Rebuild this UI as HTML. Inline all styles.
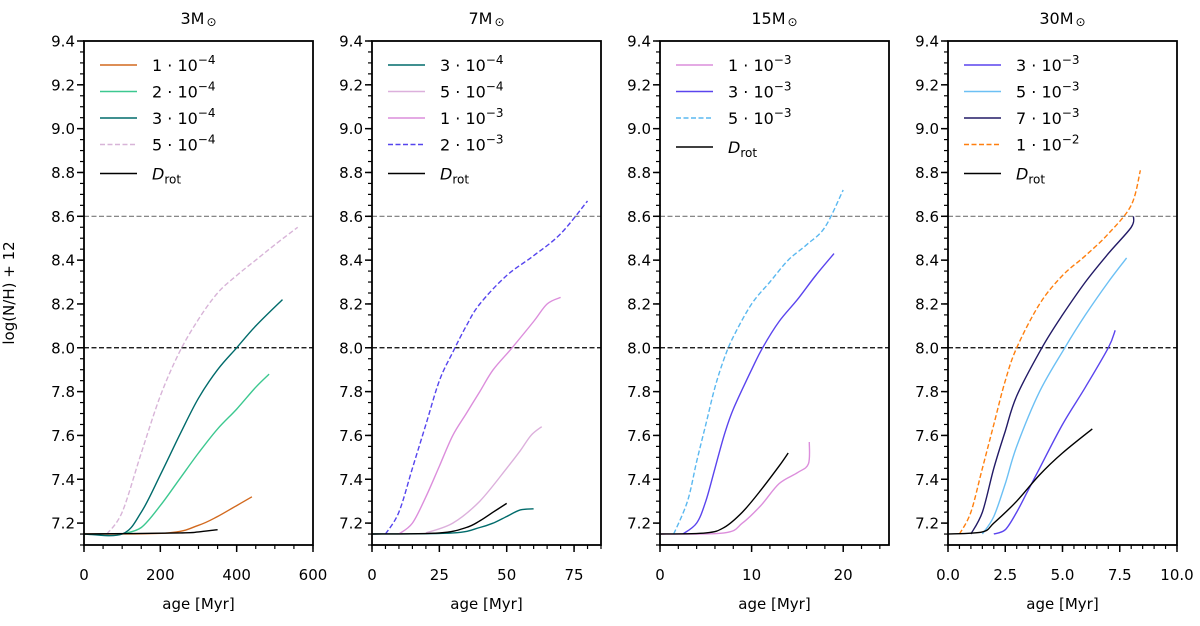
<!DOCTYPE html>
<html><head><meta charset="utf-8"><style>
body{margin:0;background:#fff}
svg text{font-family:"DejaVu Sans","Liberation Sans",sans-serif;fill:#000}
</style></head><body>
<svg id="c" width="1200" height="621" xmlns="http://www.w3.org/2000/svg"></svg>
<script>
const panelTitles=["3","7","15","30"];
const xMaxes=[600,85,25,10];
const xTickLabels=[["0","200","400","600"],["0","25","50","75"],["0","10","20"],["0.0","2.5","5.0","7.5","10.0"]];
const xTickVals=[[0,200,400,600],[0,25,50,75],[0,10,20],[0,2.5,5,7.5,10]];
const xMinor=[50,5,2,0.5];
const yTicks=[7.2,7.4,7.6,7.8,8.0,8.2,8.4,8.6,8.8,9.0,9.2,9.4];
const hLines=[8.0,8.6];
const p1_orange_x=[0,220,300,350,400,440];const p1_orange_y=[7.15,7.155,7.19,7.23,7.28,7.32];
const p1_green_x=[100,150,200,250,300,350,400,450,485];const p1_green_y=[7.15,7.18,7.28,7.4,7.52,7.63,7.72,7.82,7.88];
const p1_teal_x=[0,100,150,200,250,300,350,400,450,520];const p1_teal_y=[7.15,7.15,7.25,7.42,7.6,7.77,7.9,8.0,8.1,8.22];
const p1_lilac_x=[60,100,150,200,250,300,350,400,450,500,560];const p1_lilac_y=[7.15,7.25,7.52,7.78,7.98,8.13,8.25,8.33,8.4,8.47,8.55];
const p1_black_x=[0,250,300,350];const p1_black_y=[7.15,7.155,7.16,7.17];
const p2_teal_x=[0,30,40,45,50,55,60];const p2_teal_y=[7.15,7.155,7.18,7.2,7.23,7.26,7.265];
const p2_lpink_x=[20,30,40,50,55,59,63];const p2_lpink_y=[7.155,7.2,7.3,7.45,7.53,7.6,7.64];
const p2_orchid_x=[10,15,20,25,30,35,40,45,52,60,65,70];const p2_orchid_y=[7.15,7.2,7.32,7.46,7.6,7.7,7.8,7.9,8.0,8.12,8.2,8.23];
const p2_blue_x=[5,10,15,20,25,30,35,40,50,60,70,80];const p2_blue_y=[7.15,7.25,7.45,7.65,7.85,7.98,8.1,8.2,8.33,8.42,8.52,8.67];
const p2_black_x=[0,25,35,40,45,50];const p2_black_y=[7.15,7.155,7.18,7.21,7.25,7.29];
const p3_pink_x=[0,7,9,11,13,15,16.2,16.3];const p3_pink_y=[7.15,7.155,7.2,7.28,7.38,7.43,7.47,7.57];
const p3_blue_x=[2.5,4,5,6,7,8,10,11.2,13,15,17,19];const p3_blue_y=[7.15,7.2,7.3,7.45,7.6,7.72,7.9,8.0,8.12,8.22,8.33,8.43];
const p3_cyan_x=[1.5,3,4,5,6,7,8,10,12,14,16,18,20];const p3_cyan_y=[7.15,7.3,7.48,7.65,7.82,7.95,8.05,8.2,8.3,8.4,8.47,8.55,8.72];
const p3_black_x=[0,5,7,9,11,13,14];const p3_black_y=[7.15,7.155,7.18,7.25,7.35,7.46,7.52];
const p4_blue_x=[2,2.5,3,3.5,4,5,6,7,7.3];const p4_blue_y=[7.15,7.17,7.25,7.35,7.45,7.65,7.82,8.0,8.08];
const p4_lblue_x=[1.5,2,2.5,3,4,5.1,6,7,7.8];const p4_lblue_y=[7.15,7.23,7.38,7.55,7.8,8.0,8.15,8.3,8.41];
const p4_navy_x=[1,1.5,2,2.5,3,4.1,5,6,7,8,8.1];const p4_navy_y=[7.15,7.25,7.45,7.62,7.78,8.0,8.15,8.3,8.43,8.55,8.6];
const p4_orange_x=[0.5,1,1.5,2,2.5,3,4,5,6,7,8,8.4];const p4_orange_y=[7.15,7.25,7.45,7.65,7.85,8.0,8.2,8.33,8.42,8.52,8.65,8.81];
const p4_black_x=[0,1.5,2,3,4,5,6.3];const p4_black_y=[7.15,7.16,7.2,7.3,7.42,7.52,7.63];
const series=[
[0,"1 · 10","−4","#d2691e",0,p1_orange_x,p1_orange_y],
[0,"2 · 10","−4","#3cc890",0,p1_green_x,p1_green_y],
[0,"3 · 10","−4","#006b6b",0,p1_teal_x,p1_teal_y],
[0,"5 · 10","−4","#d8b4d8",1,p1_lilac_x,p1_lilac_y],
[0,"D","rot","#000",0,p1_black_x,p1_black_y],
[1,"3 · 10","−4","#006b6b",0,p2_teal_x,p2_teal_y],
[1,"5 · 10","−4","#dcb0dc",0,p2_lpink_x,p2_lpink_y],
[1,"1 · 10","−3","#dc8edc",0,p2_orchid_x,p2_orchid_y],
[1,"2 · 10","−3","#5544ee",1,p2_blue_x,p2_blue_y],
[1,"D","rot","#000",0,p2_black_x,p2_black_y],
[2,"1 · 10","−3","#dc8edc",0,p3_pink_x,p3_pink_y],
[2,"3 · 10","−3","#5a44ee",0,p3_blue_x,p3_blue_y],
[2,"5 · 10","−3","#5ab8f0",1,p3_cyan_x,p3_cyan_y],
[2,"D","rot","#000",0,p3_black_x,p3_black_y],
[3,"3 · 10","−3","#5a44ee",0,p4_blue_x,p4_blue_y],
[3,"5 · 10","−3","#6cc0f4",0,p4_lblue_x,p4_lblue_y],
[3,"7 · 10","−3","#221a66",0,p4_navy_x,p4_navy_y],
[3,"1 · 10","−2","#ff7f0e",1,p4_orange_x,p4_orange_y],
[3,"D","rot","#000",0,p4_black_x,p4_black_y]];
const NS="http://www.w3.org/2000/svg",svg=document.getElementById('c');
function mk(t,a,p){const e=document.createElementNS(NS,t);for(const k in a)e.setAttribute(k,a[k]);(p||svg).appendChild(e);return e;}
function smooth(pts){let d='M'+pts[0][0].toFixed(1)+','+pts[0][1].toFixed(1);
 for(let i=0;i<pts.length-1;i++){const p0=pts[Math.max(0,i-1)],p1=pts[i],p2=pts[i+1],p3=pts[Math.min(pts.length-1,i+2)];
  const c1=[p1[0]+(p2[0]-p0[0])/6,p1[1]+(p2[1]-p0[1])/6],c2=[p2[0]-(p3[0]-p1[0])/6,p2[1]-(p3[1]-p1[1])/6];
  d+='C'+c1.map(v=>v.toFixed(1))+' '+c2.map(v=>v.toFixed(1))+' '+p2.map(v=>v.toFixed(1));}
 return d;}
const L0=84,PW=229,GAP=288,T=41,B=545,Y0=7.1,Y1=9.4;
const yS=v=>B-(v-Y0)/(Y1-Y0)*(B-T);
for(let p=0;p<4;p++){
 const L=L0+p*GAP,R=L+PW,xS=v=>L+v/xMaxes[p]*PW;
 const g=mk('g',{});
 
 
 const t=mk('text',{x:L+PW/2,y:24,'font-size':16,'text-anchor':'middle'},g);t.textContent=panelTitles[p]+'M';
 const ts=mk('tspan',{'font-size':12,dx:2,dy:2},t);ts.textContent='⊙';
 
 hLines.forEach((h,i)=>{const l=mk('line',{x1:L,x2:R,y1:yS(h),y2:yS(h),stroke:i?'#777':'#000','stroke-width':1.2,'stroke-dasharray':'5,2.5'},g);
  });
 series.filter(s=>s[0]===p).forEach(s=>{
  const d=smooth(s[5].map((x,i)=>[xS(x),yS(s[6][i])]));
  const pa=mk('path',{d,fill:'none',stroke:s[3],'stroke-width':1.4},g);if(s[4])pa.setAttribute('stroke-dasharray','5,2.5');
  });
 series.filter(s=>s[0]===p).forEach((s,i)=>{
  const y=65+i*26.5+(s[1]==='D'?2.5:0);
  const l=mk('line',{x1:L+16,x2:L+53,y1:y,y2:y,stroke:s[3],'stroke-width':1.4},g);if(s[4])l.setAttribute('stroke-dasharray','5,2.5');
  
  const tx=mk('text',{x:L+68,y:y+6,'font-size':16},g);
  
  if(s[1]==='D'){const a=mk('tspan',{'font-style':'italic'},tx);a.textContent='D';const b=mk('tspan',{'font-size':12,dy:4},tx);b.textContent='rot';}
  else{tx.textContent=s[1];const b=mk('tspan',{'font-size':12,dy:-7},tx);b.textContent=s[2];}
 });
 const fr=mk('rect',{x:L,y:T,width:PW,height:B-T,fill:'none',stroke:'#000','stroke-width':1.8},g);
 
 for(let v=7.1;v<=9.401;v+=0.05){const yy=yS(v);mk('line',{x1:L-4,x2:L,y1:yy,y2:yy,stroke:'#000','stroke-width':1.2},g);}
 yTicks.forEach(v=>{mk('line',{x1:L-7,x2:L,y1:yS(v),y2:yS(v),stroke:'#000','stroke-width':1.5},g);
  const tt=mk('text',{x:L-9,y:yS(v)+5.5,'font-size':15,'text-anchor':'end'},g);tt.textContent=v.toFixed(1);
  });
 for(let v=0;v<=xMaxes[p]+1e-6;v+=xMinor[p]){mk('line',{x1:xS(v),x2:xS(v),y1:B,y2:B+4,stroke:'#000','stroke-width':1.2},g);}
 xTickVals[p].forEach((v,i)=>{mk('line',{x1:xS(v),x2:xS(v),y1:B,y2:B+7,stroke:'#000','stroke-width':1.5},g);
  const tt=mk('text',{x:xS(v),y:580,'font-size':15,'text-anchor':'middle'},g);tt.textContent=xTickLabels[p][i];
  });
 const xl=mk('text',{x:L+PW/2,y:609,'font-size':15,'text-anchor':'middle'},g);xl.textContent='age [Myr]';
 
}
const yl=mk('text',{x:0,y:0,'font-size':15,'text-anchor':'middle',transform:'translate(14,293) rotate(-90)'});yl.textContent='log(N/H) + 12';

</script>
</body></html>
